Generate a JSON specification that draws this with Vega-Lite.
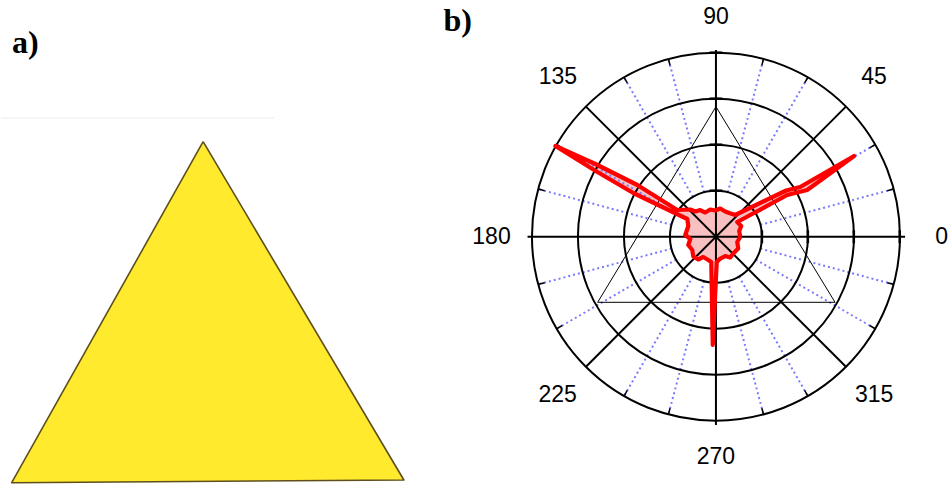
{
  "$schema": "https://vega.github.io/schema/vega-lite/v6.json",
  "width": 949,
  "height": 490,
  "autosize": {"type": "fit", "contains": "padding"},
  "padding": 0,
  "background": "white",
  "config": {"view": {"stroke": null}},
  "datasets": {
    "yellow": [
      {"i": 0, "x": -2.790, "y": 0.5163},
      {"i": 1, "x": -1.6978, "y": -1.3223},
      {"i": 2, "x": -3.8315, "y": -1.337},
      {"i": 3, "x": -2.790, "y": 0.5163}
    ],
    "faint": [
      {"x": -3.8897, "y": 0.6451, "x2": -2.406, "y2": 0.6451}
    ],
    "rings": [
      {"x": 0, "y": 0, "r": 0.25},
      {"x": 0, "y": 0, "r": 0.5},
      {"x": 0, "y": 0, "r": 0.75},
      {"x": 0, "y": 0, "r": 1.0}
    ],
    "dotted": [
      {"x": 0.24148, "y": 0.06470, "x2": 0.96593, "y2": 0.25882},
      {"x": 0.21651, "y": 0.125, "x2": 0.86603, "y2": 0.5},
      {"x": 0.125, "y": 0.21651, "x2": 0.5, "y2": 0.86603},
      {"x": 0.06470, "y": 0.24148, "x2": 0.25882, "y2": 0.96593},
      {"x": -0.06470, "y": 0.24148, "x2": -0.25882, "y2": 0.96593},
      {"x": -0.125, "y": 0.21651, "x2": -0.5, "y2": 0.86603},
      {"x": -0.21651, "y": 0.125, "x2": -0.86603, "y2": 0.5},
      {"x": -0.24148, "y": 0.06470, "x2": -0.96593, "y2": 0.25882},
      {"x": -0.24148, "y": -0.06470, "x2": -0.96593, "y2": -0.25882},
      {"x": -0.21651, "y": -0.125, "x2": -0.86603, "y2": -0.5},
      {"x": -0.125, "y": -0.21651, "x2": -0.5, "y2": -0.86603},
      {"x": -0.06470, "y": -0.24148, "x2": -0.25882, "y2": -0.96593},
      {"x": 0.06470, "y": -0.24148, "x2": 0.25882, "y2": -0.96593},
      {"x": 0.125, "y": -0.21651, "x2": 0.5, "y2": -0.86603},
      {"x": 0.21651, "y": -0.125, "x2": 0.86603, "y2": -0.5},
      {"x": 0.24148, "y": -0.06470, "x2": 0.96593, "y2": -0.25882}
    ],
    "outerTicks": [
      {"x": 0.93212, "y": 0.24976, "x2": 0.96593, "y2": 0.25882},
      {"x": 0.83571, "y": 0.48250, "x2": 0.86603, "y2": 0.5},
      {"x": 0.48250, "y": 0.83571, "x2": 0.5, "y2": 0.86603},
      {"x": 0.24976, "y": 0.93212, "x2": 0.25882, "y2": 0.96593},
      {"x": -0.24976, "y": 0.93212, "x2": -0.25882, "y2": 0.96593},
      {"x": -0.48250, "y": 0.83571, "x2": -0.5, "y2": 0.86603},
      {"x": -0.83571, "y": 0.48250, "x2": -0.86603, "y2": 0.5},
      {"x": -0.93212, "y": 0.24976, "x2": -0.96593, "y2": 0.25882},
      {"x": -0.93212, "y": -0.24976, "x2": -0.96593, "y2": -0.25882},
      {"x": -0.83571, "y": -0.48250, "x2": -0.86603, "y2": -0.5},
      {"x": -0.48250, "y": -0.83571, "x2": -0.5, "y2": -0.86603},
      {"x": -0.24976, "y": -0.93212, "x2": -0.25882, "y2": -0.96593},
      {"x": 0.24976, "y": -0.93212, "x2": 0.25882, "y2": -0.96593},
      {"x": 0.48250, "y": -0.83571, "x2": 0.5, "y2": -0.86603},
      {"x": 0.83571, "y": -0.48250, "x2": 0.86603, "y2": -0.5},
      {"x": 0.93212, "y": -0.24976, "x2": 0.96593, "y2": -0.25882}
    ],
    "spokes": [
      {"x": -1.025, "y": 0, "x2": 1.029, "y2": 0},
      {"x": 0, "y": -1.023, "x2": 0, "y2": 1.015},
      {"x": -0.70711, "y": -0.70711, "x2": 0.70711, "y2": 0.70711},
      {"x": -0.70711, "y": 0.70711, "x2": 0.70711, "y2": -0.70711}
    ],
    "axisTicks": [
      {"x": 0.25, "y": -0.035, "x2": 0.25, "y2": 0.035},
      {"x": 0.5, "y": -0.035, "x2": 0.5, "y2": 0.035},
      {"x": 0.75, "y": -0.035, "x2": 0.75, "y2": 0.035},
      {"x": 1.0, "y": -0.035, "x2": 1.0, "y2": 0.035},
      {"x": -0.035, "y": 0.25, "x2": 0.035, "y2": 0.25},
      {"x": -0.035, "y": 0.5, "x2": 0.035, "y2": 0.5},
      {"x": -0.035, "y": 0.75, "x2": 0.035, "y2": 0.75},
      {"x": -0.035, "y": 1.0, "x2": 0.035, "y2": 1.0}
    ],
    "triangle": [
      {"i": 0, "x": 0, "y": 0.7065},
      {"i": 1, "x": 0.648, "y": -0.3565},
      {"i": 2, "x": -0.6435, "y": -0.3565},
      {"i": 3, "x": 0, "y": 0.7065}
    ],
    "pattern": [
      {"i": 1, "x": 0.1321, "y": -0.0016},
      {"i": 2, "x": 0.1266, "y": 0.0310},
      {"i": 3, "x": 0.1375, "y": 0.0582},
      {"i": 4, "x": 0.1158, "y": 0.0799},
      {"i": 5, "x": 0.3875, "y": 0.2266},
      {"i": 6, "x": 0.4962, "y": 0.2538},
      {"i": 7, "x": 0.7516, "y": 0.4386},
      {"i": 8, "x": 0.4582, "y": 0.2701},
      {"i": 9, "x": 0.3821, "y": 0.2511},
      {"i": 10, "x": 0.1049, "y": 0.1179},
      {"i": 11, "x": 0.0723, "y": 0.1288},
      {"i": 12, "x": 0.0505, "y": 0.1370},
      {"i": 13, "x": 0.0234, "y": 0.1533},
      {"i": 14, "x": -0.0038, "y": 0.1424},
      {"i": 15, "x": -0.0310, "y": 0.1478},
      {"i": 16, "x": -0.0582, "y": 0.1315},
      {"i": 17, "x": -0.0853, "y": 0.1451},
      {"i": 18, "x": -0.1125, "y": 0.1370},
      {"i": 19, "x": -0.1397, "y": 0.1478},
      {"i": 20, "x": -0.2103, "y": 0.1451},
      {"i": 21, "x": -0.4277, "y": 0.2810},
      {"i": 22, "x": -0.6560, "y": 0.3951},
      {"i": 23, "x": -0.8734, "y": 0.4929},
      {"i": 24, "x": -0.6451, "y": 0.3516},
      {"i": 25, "x": -0.4495, "y": 0.2375},
      {"i": 26, "x": -0.1560, "y": 0.0962},
      {"i": 27, "x": -0.1505, "y": 0.0582},
      {"i": 28, "x": -0.1668, "y": 0.0092},
      {"i": 29, "x": -0.1397, "y": -0.0125},
      {"i": 30, "x": -0.1505, "y": -0.0451},
      {"i": 31, "x": -0.1288, "y": -0.0723},
      {"i": 32, "x": -0.1234, "y": -0.1076},
      {"i": 33, "x": -0.0962, "y": -0.1239},
      {"i": 34, "x": -0.0690, "y": -0.1103},
      {"i": 35, "x": -0.0418, "y": -0.1266},
      {"i": 36, "x": -0.0255, "y": -0.1375},
      {"i": 37, "x": -0.0174, "y": -0.5886},
      {"i": 38, "x": 0.0043, "y": -0.1375},
      {"i": 39, "x": 0.0234, "y": -0.1185},
      {"i": 40, "x": 0.0505, "y": -0.1049},
      {"i": 41, "x": 0.0777, "y": -0.1130},
      {"i": 42, "x": 0.0940, "y": -0.0913},
      {"i": 43, "x": 0.1212, "y": -0.0641},
      {"i": 44, "x": 0.1158, "y": -0.0288},
      {"i": 45, "x": 0.1321, "y": -0.0016}
    ],
    "angleLabels": [
      {"x": 1.2283, "y": 0, "t": "0"},
      {"x": 0.8603, "y": 0.8663, "t": "45"},
      {"x": 0, "y": 1.1913, "t": "90"},
      {"x": -0.8598, "y": 0.8663, "t": "135"},
      {"x": -1.2212, "y": 0, "t": "180"},
      {"x": -0.8609, "y": -0.8603, "t": "225"},
      {"x": 0, "y": -1.1957, "t": "270"},
      {"x": 0.8603, "y": -0.8603, "t": "315"}
    ],
    "panelLabels": [
      {"x": -3.8299, "y": 0.9984, "t": "a)"},
      {"x": -1.4821, "y": 1.1196, "t": "b)"}
    ]
  },
  "encoding": {
    "x": {"field": "x", "type": "quantitative", "axis": null,
          "scale": {"domain": [-3.8897, 1.2679], "nice": false, "zero": false}},
    "y": {"field": "y", "type": "quantitative", "axis": null,
          "scale": {"domain": [-1.3766, 1.2864], "nice": false, "zero": false}}
  },
  "layer": [
    {
      "data": {"name": "yellow"},
      "mark": {"type": "line", "fill": "#ffea2e", "stroke": "#5e4f1c", "strokeWidth": 1.6, "strokeJoin": "round"},
      "encoding": {"order": {"field": "i", "type": "quantitative"}}
    },
    {
      "data": {"name": "faint"},
      "mark": {"type": "rule", "stroke": "#ebebeb", "strokeWidth": 1},
      "encoding": {"x2": {"field": "x2"}, "y2": {"field": "y2"}}
    },
    {
      "data": {"name": "pattern"},
      "mark": {"type": "line", "fill": "#f8c0c0", "strokeWidth": 0, "strokeOpacity": 0},
      "encoding": {"order": {"field": "i", "type": "quantitative"}}
    },
    {
      "data": {"name": "dotted"},
      "mark": {"type": "rule", "stroke": "#7a7aff", "strokeWidth": 2, "strokeDash": [2, 3]},
      "encoding": {"x2": {"field": "x2"}, "y2": {"field": "y2"}}
    },
    {
      "data": {"name": "rings"},
      "mark": {"type": "point", "shape": "circle", "filled": false, "stroke": "black", "strokeWidth": 2, "opacity": 1},
      "encoding": {
        "size": {"field": "r", "type": "quantitative", "legend": null,
                 "scale": {"type": "pow", "exponent": 2, "domain": [0, 1], "range": [0, 135424]}}
      }
    },
    {
      "data": {"name": "spokes"},
      "mark": {"type": "rule", "stroke": "black", "strokeWidth": 2},
      "encoding": {"x2": {"field": "x2"}, "y2": {"field": "y2"}}
    },
    {
      "data": {"name": "outerTicks"},
      "mark": {"type": "rule", "stroke": "black", "strokeWidth": 1.5},
      "encoding": {"x2": {"field": "x2"}, "y2": {"field": "y2"}}
    },
    {
      "data": {"name": "axisTicks"},
      "mark": {"type": "rule", "stroke": "black", "strokeWidth": 2.5},
      "encoding": {"x2": {"field": "x2"}, "y2": {"field": "y2"}}
    },
    {
      "data": {"name": "triangle"},
      "mark": {"type": "line", "stroke": "black", "strokeWidth": 1},
      "encoding": {"order": {"field": "i", "type": "quantitative"}}
    },
    {
      "data": {"name": "pattern"},
      "mark": {"type": "line", "stroke": "#ff0000", "strokeWidth": 4.2, "strokeJoin": "round"},
      "encoding": {"order": {"field": "i", "type": "quantitative"}}
    },
    {
      "data": {"name": "angleLabels"},
      "mark": {"type": "text", "font": "Liberation Sans", "fontSize": 23, "color": "black", "align": "center", "baseline": "middle"},
      "encoding": {"text": {"field": "t"}}
    },
    {
      "data": {"name": "panelLabels"},
      "mark": {"type": "text", "font": "Liberation Serif", "fontSize": 32, "fontWeight": "bold", "color": "black", "align": "left", "baseline": "alphabetic"},
      "encoding": {"text": {"field": "t"}}
    }
  ]
}
